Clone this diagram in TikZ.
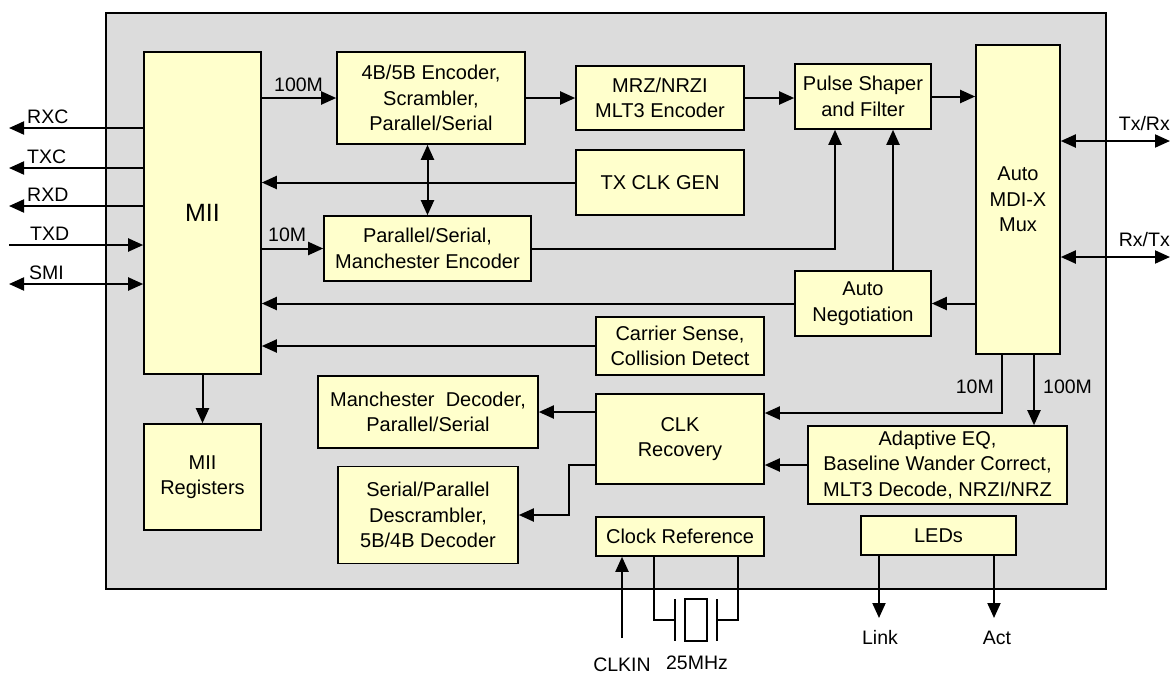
\documentclass[tikz,border=0pt]{standalone}
\usepackage{fontspec}
\setmainfont{Liberation Sans}
\usetikzlibrary{arrows.meta}
\definecolor{panelgray}{RGB}{220,220,220}
\definecolor{boxyellow}{RGB}{255,255,204}
\begin{document}
\begin{tikzpicture}[x=1pt,y=-1pt,
 box/.style={draw, line width=1.6pt, fill=boxyellow, inner sep=0pt, align=center, font=\fontsize{20}{25.5}\selectfont},
 conn/.style={line width=2pt, -{Triangle[length=15pt,width=13pt]}},
 biconn/.style={line width=2pt, {Triangle[length=15pt,width=13pt]}-{Triangle[length=15pt,width=13pt]}},
 wire/.style={line width=2pt},
 lbl/.style={inner sep=0pt, font=\fontsize{19.5}{23}\selectfont}]
\useasboundingbox (0,0) rectangle (1171,673);
\node[draw, line width=1.6pt, fill=panelgray, minimum width=1000pt, minimum height=576pt, anchor=north west, inner sep=0pt] (panel) at (105,12) {};
% boxes
\node[box, minimum width=117pt, minimum height=322pt] (mii) at (202.5,213) {\fontsize{25}{28}\selectfont MII};
\node[box, minimum width=117pt, minimum height=106pt] (miireg) at (202.5,477) {MII\\Registers};
\node[box, minimum width=188pt, minimum height=92pt] (enc4b) at (431,98) {4B/5B Encoder,\\Scrambler,\\Parallel/Serial};
\node[box, minimum width=168pt, minimum height=64pt] (mlt3) at (660,98) {MRZ/NRZI\\MLT3 Encoder};
\node[box, minimum width=168pt, minimum height=65pt] (txclk) at (660,182.5) {TX CLK GEN};
\node[box, minimum width=207pt, minimum height=65pt] (manenc) at (427.5,248.5) {Parallel/Serial,\\Manchester Encoder};
\node[box, minimum width=136pt, minimum height=65pt] (pulse) at (863,96.5) {Pulse Shaper\\and Filter};
\node[box, minimum width=84pt, minimum height=309pt] (mdix) at (1018,199.5) {Auto\\MDI-X\\Mux};
\node[box, minimum width=136pt, minimum height=65pt] (autoneg) at (863,303.5) {Auto\\Negotiation};
\node[box, minimum width=168pt, minimum height=58pt] (carrier) at (680,346) {Carrier Sense,\\Collision Detect};
\node[box, minimum width=168pt, minimum height=90pt] (clkrec) at (680,439) {CLK\\Recovery};
\node[box, minimum width=259pt, minimum height=78pt] (adapt) at (937.5,465) {Adaptive EQ,\\Baseline Wander Correct,\\MLT3 Decode, NRZI/NRZ};
\node[box, minimum width=168pt, minimum height=39pt] (clkref) at (680,536.5) {Clock Reference};
\node[box, minimum width=155pt, minimum height=39pt] (leds) at (938.5,535.5) {LEDs};
\node[box, minimum width=220pt, minimum height=72pt] (mandec) at (428,412) {Manchester~ Decoder,\\Parallel/Serial};
\node[box, minimum width=180pt, minimum height=97pt] (spdec) at (428,515) {Serial/Parallel\\Descrambler,\\5B/4B Decoder};
% free ends
\coordinate (rxc) at (9,128);
\coordinate (txc) at (9,168);
\coordinate (rxd) at (9,206);
\coordinate (txd) at (9,245);
\coordinate (smi) at (9,284);
\coordinate (txrx) at (1170,141);
\coordinate (rxtx) at (1170,257);
\coordinate (clkin) at (622,638);
\coordinate (link) at (879,618);
\coordinate (act) at (994,618);
\coordinate (xl) at (675,620);
\coordinate (xr) at (717,620);
% connectors
\draw[conn] (mii.west |- rxc) -- (rxc);
\draw[conn] (mii.west |- txc) -- (txc);
\draw[conn] (mii.west |- rxd) -- (rxd);
\draw[conn] (txd) -- (mii.west |- txd);
\draw[biconn] (smi) -- (mii.west |- smi);
\draw[conn] (mii.east |- enc4b.west) -- (enc4b.west);
\draw[conn] (enc4b.east) -- (mlt3.west);
\draw[conn] (mlt3.east) -- (pulse.west |- mlt3.east);
\draw[conn] (pulse.east) -- (mdix.west |- pulse.east);
\draw[biconn] (manenc.north |- enc4b.south) -- (manenc.north);
\draw[conn] (txclk.west) -- (mii.east |- txclk.west);
\draw[conn] (mii.east |- manenc.west) -- (manenc.west);
\draw[conn] (manenc.east) -| ([xshift=-28pt]pulse.south);
\draw[conn] ([xshift=30pt]autoneg.north) -- ([xshift=30pt]pulse.south);
\draw[conn] (mdix.west |- autoneg.east) -- (autoneg.east);
\draw[conn] (autoneg.west) -- (mii.east |- autoneg.west);
\draw[conn] (carrier.west) -- (mii.east |- carrier.west);
\draw[conn] (mii.south -| miireg.north) -- (miireg.north);
\draw[conn] ([xshift=-16pt]mdix.south) |- ([yshift=26pt]clkrec.east);
\draw[conn] ([xshift=16pt]mdix.south) -- ([xshift=16pt]mdix.south |- adapt.north);
\draw[conn] (adapt.west) -- (clkrec.east |- adapt.west);
\draw[conn] (clkrec.west |- mandec.east) -- (mandec.east);
\draw[conn] ([yshift=-26pt]clkrec.west) -- ([yshift=-26pt,xshift=-26pt]clkrec.west) |- (spdec.east);
\draw[conn] (clkin) -- (clkin |- clkref.south);
\draw[conn] (leds.south -| link) -- (link);
\draw[conn] (leds.south -| act) -- (act);
\draw[biconn] (mdix.east |- txrx) -- (txrx);
\draw[biconn] (mdix.east |- rxtx) -- (rxtx);
% crystal
\draw[wire] ([xshift=-26pt]clkref.south) |- (xl);
\draw[wire] ([xshift=58pt]clkref.south) |- (xr);
\draw[wire] (675,599) -- (675,641);
\draw[wire] (717,599) -- (717,641);
\draw[line width=1.6pt] (685,599) rectangle (707,641);
% labels
\node[lbl, anchor=base west] at (27,123) {RXC};
\node[lbl, anchor=base west] at (27,163) {TXC};
\node[lbl, anchor=base west] at (27,201) {RXD};
\node[lbl, anchor=base west] at (30,240) {TXD};
\node[lbl, anchor=base west] at (29,279) {SMI};
\node[lbl, anchor=base west] at (274,91) {100M};
\node[lbl, anchor=base west] at (268,241) {10M};
\node[lbl, anchor=base east] at (1170,130) {Tx/Rx};
\node[lbl, anchor=base east] at (1170,246) {Rx/Tx};
\node[lbl, anchor=base east] at (994,393) {10M};
\node[lbl, anchor=base west] at (1043,393) {100M};
\node[lbl, anchor=base] at (880,644) {Link};
\node[lbl, anchor=base] at (997,644) {Act};
\node[lbl, anchor=base] at (622,671) {CLKIN};
\node[lbl, anchor=base] at (697,669) {25MHz};
\end{tikzpicture}
\end{document}
